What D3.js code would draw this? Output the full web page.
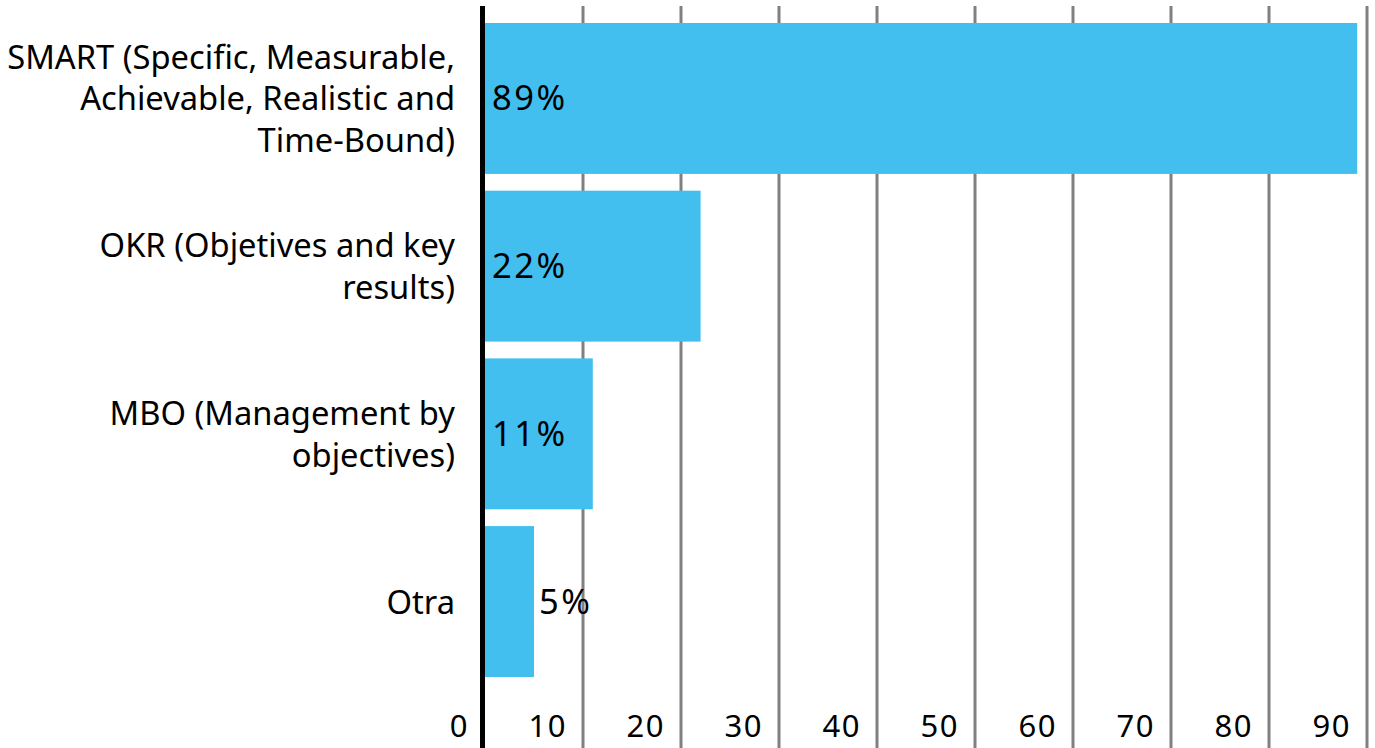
<!DOCTYPE html>
<html>
<head>
<meta charset="utf-8">
<script src="https://cdn.jsdelivr.net/npm/d3@7"></script>
<style>
  html, body { margin: 0; padding: 0; background: #fff; }
  svg { display: block; }
  text { font-family: "Noto Sans", "Open Sans", sans-serif; fill: #000; }
</style>
</head>
<body>
<svg id="chart" width="1375" height="748"></svg>
<script>
const categories = [
  "SMART (Specific, Measurable,\nAchievable, Realistic and\nTime-Bound)",
  "OKR (Objetives and key\nresults)",
  "MBO (Management by\nobjectives)",
  "Otra"
];
const values = [89, 22, 11, 5];
const valueLabels = ["89%", "22%", "11%", "5%"];
const tickValues = [0, 10, 20, 30, 40, 50, 60, 70, 80, 90];

const W = 1375, H = 748;
const svg = d3.select("#chart");

const x = d3.scaleLinear().domain([0, 90]).range([485, 1367]);
const y = d3.scaleBand().domain(categories).range([14.6, 685.4]).paddingInner(0.1).paddingOuter(0.05);

// gridlines
svg.append("g").selectAll("line")
  .data(tickValues.filter(v => v > 0))
  .join("line")
  .attr("x1", d => x(d)).attr("x2", d => x(d))
  .attr("y1", 6).attr("y2", H)
  .attr("stroke", "#808080").attr("stroke-width", 3);

// bars
svg.append("g").selectAll("rect")
  .data(categories)
  .join("rect")
  .attr("x", x(0))
  .attr("y", d => y(d))
  .attr("width", (d, i) => x(values[i]) - x(0))
  .attr("height", y.bandwidth())
  .attr("fill", "#42BFEF");

// axis line
svg.append("line")
  .attr("x1", x(0) - 2.5).attr("x2", x(0) - 2.5)
  .attr("y1", 6).attr("y2", H)
  .attr("stroke", "#000").attr("stroke-width", 5);

// tick labels
svg.append("g").selectAll("text")
  .data(tickValues)
  .join("text")
  .attr("x", d => x(d) - 16)
  .attr("y", 737)
  .attr("text-anchor", "end")
  .style("font-size", "31px")
  .style("letter-spacing", "1.5px")
  .text(d => d);

// category labels
const catFont = 32.7, lineH = 41.5;
const cg = svg.append("g");
categories.forEach((c, i) => {
  const lines = c.split("\n");
  const cy = y(c) + y.bandwidth() / 2;
  const t = cg.append("text")
    .attr("text-anchor", "end")
    .style("font-size", catFont + "px");
  lines.forEach((ln, j) => {
    t.append("tspan")
      .attr("x", 455)
      .attr("y", cy + (j - (lines.length - 1) / 2) * lineH + 12)
      .text(ln);
  });
});

// value labels
const vg = svg.append("g");
categories.forEach((c, i) => {
  const cy = y(c) + y.bandwidth() / 2;
  const t = vg.append("text")
    .attr("y", cy + 12)
    .style("font-size", "34.5px")
    .style("letter-spacing", "2.5px")
    .text(valueLabels[i]);
  const tw = t.node().getComputedTextLength();
  const barW = x(values[i]) - x(0);
  if (barW > tw + 12) t.attr("x", x(0) + 7);
  else t.attr("x", x(values[i]) + 5);
});
</script>
</body>
</html>
